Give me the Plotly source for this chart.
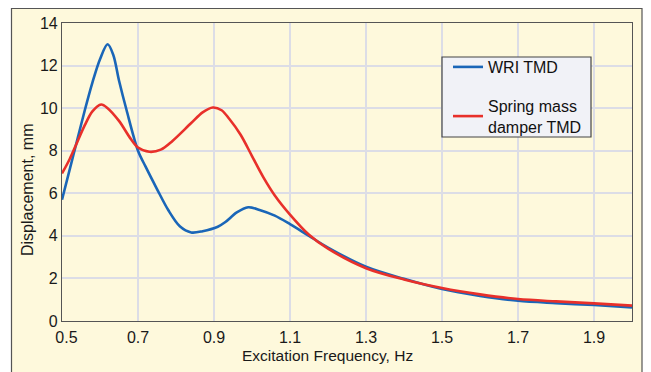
import plotly.graph_objects as go

freq_wri = [0.50, 0.52, 0.54, 0.56, 0.58, 0.60, 0.62, 0.635, 0.65, 0.67, 0.70, 0.72, 0.75, 0.78,
            0.81, 0.84, 0.87, 0.91, 0.93, 0.96, 0.99, 1.02, 1.06, 1.10, 1.15, 1.20, 1.30, 1.40,
            1.50, 1.60, 1.70, 1.80, 1.90, 2.00]
disp_wri = [5.70, 7.10, 8.50, 9.90, 11.20, 12.30, 13.00, 12.50, 11.30, 9.90, 8.00, 7.25, 6.20, 5.20,
            4.45, 4.16, 4.22, 4.43, 4.65, 5.10, 5.34, 5.22, 4.95, 4.55, 4.00, 3.45, 2.55, 1.98,
            1.50, 1.18, 0.95, 0.84, 0.75, 0.64]

freq_smd = [0.50, 0.52, 0.54, 0.56, 0.58, 0.603, 0.62, 0.65, 0.68, 0.70, 0.73, 0.76, 0.79, 0.84,
            0.87, 0.897, 0.92, 0.94, 0.97, 1.00, 1.03, 1.06, 1.10, 1.15, 1.20, 1.30, 1.40, 1.50,
            1.60, 1.70, 1.80, 1.90, 2.00]
disp_smd = [6.93, 7.60, 8.40, 9.20, 9.85, 10.17, 10.00, 9.40, 8.58, 8.15, 7.95, 8.05, 8.45, 9.30,
            9.80, 10.03, 9.90, 9.50, 8.75, 7.75, 6.75, 5.90, 5.00, 4.05, 3.40, 2.48, 1.95, 1.55,
            1.25, 1.03, 0.92, 0.83, 0.72]

series_names = ["WRI TMD", "Spring mass<br>damper TMD"]
x_title = "Excitation Frequency, Hz"
y_title = "Displacement, mm"
x_ticks = [0.5, 0.7, 0.9, 1.1, 1.3, 1.5, 1.7, 1.9]
x_tick_text = ["\u00a0\u00a00.5", "0.7", "0.9", "1.1", "1.3", "1.5", "1.7", "1.9"]
y_ticks = [0, 2, 4, 6, 8, 10, 12, 14]

FONT = "Liberation Sans, Arial, sans-serif"

fig = go.Figure()
fig.add_trace(go.Scatter(x=freq_wri, y=disp_wri, mode="lines", name=series_names[0],
                         legendgroup="a",
                         line=dict(color="#1a66b8", width=2.6, shape="spline", smoothing=0.9)))
fig.add_trace(go.Scatter(x=freq_smd, y=disp_smd, mode="lines", name=series_names[1],
                         legendgroup="b",
                         line=dict(color="#e8302a", width=2.6, shape="spline", smoothing=0.9)))

L, R, T, B = 62, 19, 23, 51
W, H = 651, 372
pw, ph = W - L - R, H - T - B

def px(x):
    return (x - L) / pw

def py(y):
    return (H - B - y) / ph

# outer yellow panel
fig.add_shape(type="rect", xref="paper", yref="paper",
              x0=px(11.5), x1=px(642), y0=py(390), y1=py(8.5),
              fillcolor="#fef9dc", line=dict(color="#555555", width=1.2), layer="below")
# legend box
fig.add_shape(type="rect", xref="paper", yref="paper",
              x0=px(442), x1=px(591), y0=py(137), y1=py(57),
              fillcolor="#f1f2f7", line=dict(color="#444444", width=1.2), layer="above")

# axis titles (offset from plot centre as in the reference)
fig.add_annotation(text=x_title, xref="paper", yref="paper", x=px(327), y=py(355),
                   xanchor="center", yanchor="middle", showarrow=False,
                   font=dict(family=FONT, size=15.5, color="#1a1a1a"))
fig.add_annotation(text=y_title, xref="paper", yref="paper", x=px(27), y=py(190),
                   xanchor="center", yanchor="middle", showarrow=False, textangle=-90,
                   font=dict(family=FONT, size=16, color="#1a1a1a"))

fig.update_layout(
    width=W, height=H,
    margin=dict(l=L, r=R, t=T, b=B),
    paper_bgcolor="white",
    plot_bgcolor="white",
    font=dict(family=FONT, size=15, color="#1a1a1a"),
    showlegend=True,
    legend=dict(x=px(448), y=py(50), xanchor="left", yanchor="top",
                bgcolor="rgba(0,0,0,0)", borderwidth=0,
                font=dict(family=FONT, size=16, color="#111111"),
                tracegroupgap=15, traceorder="grouped"),
)
fig.update_xaxes(range=[0.5, 2.0], tickvals=x_ticks, ticktext=x_tick_text,
                 showgrid=True, gridcolor="#dcdde6", gridwidth=1.5,
                 showline=True, linecolor="#555555", linewidth=1.2, mirror=True,
                 zeroline=False, ticks="outside", ticklen=2, tickcolor="rgba(0,0,0,0)",
                 tickfont=dict(size=16))
fig.update_yaxes(range=[0, 14], tickvals=y_ticks,
                 showgrid=True, gridcolor="#dcdde6", gridwidth=1.5,
                 showline=True, linecolor="#555555", linewidth=1.2, mirror=True,
                 zeroline=False, ticks="", tickfont=dict(size=16))

fig.write_html("out.html")
